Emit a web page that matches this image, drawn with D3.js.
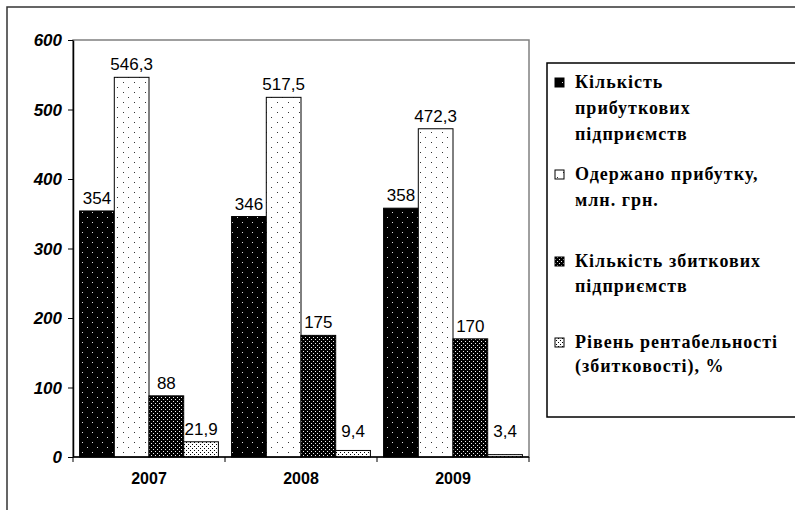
<!DOCTYPE html>
<html>
<head>
<meta charset="UTF-8">
<script src="https://d3js.org/d3.v7.min.js"></script>
</head>
<body style="margin:0">
<script>
  var years = ['2007', '2008', '2009'];
  var profitableCount = [354, 346, 358];
  var profitSum = [546.3, 517.5, 472.3];
  var lossCount = [88, 175, 170];
  var rentability = [21.9, 9.4, 3.4];
  var yTicks = [0, 100, 200, 300, 400, 500, 600];

  var seriesNames = [
    ['Кількість', 'прибуткових', 'підприємств'],
    ['Одержано прибутку,', 'млн. грн.'],
    ['Кількість збиткових', 'підприємств'],
    ['Рівень рентабельності', '(збитковості), %']
  ];
  var seriesValues = [profitableCount, profitSum, lossCount, rentability];

  var W = 795, H = 510;
  var plot = {left: 73, top: 40, right: 529, bottom: 457};

  var svg = d3.select('body').append('svg')
    .attr('width', W)
    .attr('height', H)
    .attr('font-family', 'Liberation Sans');

  // fill patterns like the old excel ones
  var defs = svg.append('defs');
  function dotPattern(id, bg, fg, w, h, dots) {
    var p = defs.append('pattern')
      .attr('id', id)
      .attr('patternUnits', 'userSpaceOnUse')
      .attr('width', w).attr('height', h);
    p.append('rect').attr('width', w).attr('height', h).attr('fill', bg);
    dots.forEach(function(d) {
      p.append('rect').attr('x', d[0]).attr('y', d[1]).attr('width', 1).attr('height', 1).attr('fill', fg);
    });
  }
  dotPattern('p0', '#000', '#ddd', 10, 10, [[2, 2], [7, 7]]);
  dotPattern('p1', '#fff', '#333', 11, 10, [[2, 2], [7, 7]]);
  dotPattern('p2', '#000', '#eee', 4, 4, [[1, 1], [3, 3]]);
  dotPattern('p3', '#fff', '#000', 4, 4, [[0, 0], [2, 2]]);

  // outer frame (cut at right and bottom)
  svg.append('rect')
    .attr('x', 7).attr('y', 7)
    .attr('width', W).attr('height', H)
    .attr('fill', 'none')
    .attr('stroke', '#333')
    .attr('stroke-width', 1.5);

  var x0 = d3.scaleBand()
    .domain(years)
    .range([plot.left, plot.right])
    .paddingInner(0)
    .paddingOuter(0);

  var x1 = d3.scaleBand()
    .domain(d3.range(4))
    .range([0, x0.bandwidth()])
    .paddingOuter(0.19);

  var y = d3.scaleLinear()
    .domain([0, 600])
    .range([plot.bottom, plot.top]);

  // plot area border
  svg.append('rect')
    .attr('x', plot.left).attr('y', plot.top)
    .attr('width', plot.right - plot.left)
    .attr('height', plot.bottom - plot.top)
    .attr('fill', 'none')
    .attr('stroke', '#808080')
    .attr('stroke-width', 1.5);

  // bars
  years.forEach(function(yr, yi) {
    seriesValues.forEach(function(vals, si) {
      var v = vals[yi];
      svg.append('rect')
        .attr('x', x0(yr) + x1(si))
        .attr('y', y(v))
        .attr('width', x1.bandwidth())
        .attr('height', y(0) - y(v))
        .attr('fill', 'url(#p' + si + ')')
        .attr('stroke', '#000')
        .attr('stroke-width', 1);
    });
  });
  // value labels
  years.forEach(function(yr, yi) {
    seriesValues.forEach(function(vals, si) {
      var v = vals[yi];
      svg.append('text')
        .attr('x', x0(yr) + x1(si) + x1.bandwidth() / 2)
        .attr('y', Math.min(y(v) - 7, y(0) - 20))
        .attr('text-anchor', 'middle')
        .attr('font-family', 'Liberation Sans')
        .attr('font-size', 17)
        .text(String(v).replace('.', ','));
    });
  });

  // y axis: line + ticks from d3, labels as plain text
  svg.append('g')
    .attr('transform', 'translate(' + plot.left + ',0)')
    .call(d3.axisLeft(y).tickValues(yTicks).tickSize(5).tickFormat('').tickSizeOuter(0))
    .call(function(g) {
      g.select('.domain').attr('stroke', '#000').attr('stroke-width', 1.5);
      g.selectAll('line').attr('stroke', '#000');
    });
  yTicks.forEach(function(t) {
    svg.append('text')
      .attr('x', plot.left - 11)
      .attr('y', y(t) + 6)
      .attr('text-anchor', 'end')
      .attr('font-family', 'Liberation Sans')
      .attr('font-size', 17)
      .attr('font-weight', 'bold')
      .attr('font-style', 'italic')
      .text(t);
  });

  // x axis
  svg.append('line')
    .attr('x1', plot.left).attr('x2', plot.right)
    .attr('y1', plot.bottom).attr('y2', plot.bottom)
    .attr('stroke', '#000').attr('stroke-width', 1.5);
  years.concat(['end']).forEach(function(d) {
    var xx = d === 'end' ? x0.range()[1] : x0(d);
    svg.append('line')
      .attr('x1', xx).attr('x2', xx)
      .attr('y1', plot.bottom).attr('y2', plot.bottom + 5)
      .attr('stroke', '#000');
  });
  years.forEach(function(d) {
    svg.append('text')
      .attr('x', x0(d) + x0.bandwidth() / 2)
      .attr('y', plot.bottom + 27)
      .attr('text-anchor', 'middle')
      .attr('font-family', 'Liberation Sans')
      .attr('font-size', 16)
      .attr('font-weight', 'bold')
      .text(d);
  });

  // legend
  svg.append('rect')
    .attr('x', 547).attr('y', 63)
    .attr('width', 300).attr('height', 417 - 63)
    .attr('fill', '#fff')
    .attr('stroke', '#000')
    .attr('stroke-width', 1.5);

  var legendTop = [78, 170, 257, 338];
  var lineGap = [26, 26, 25, 24];
  seriesNames.forEach(function(lines, i) {
    svg.append('rect')
      .attr('x', 555).attr('y', legendTop[i])
      .attr('width', 9).attr('height', 9)
      .attr('fill', 'url(#p' + i + ')')
      .attr('stroke', '#000')
      .attr('stroke-width', 1);
    lines.forEach(function(t, j) {
      svg.append('text')
        .attr('x', 575)
        .attr('y', legendTop[i] + 10 + j * lineGap[i])
        .attr('font-family', 'Liberation Serif')
        .attr('font-size', 18)
        .attr('font-weight', 'bold')
        .attr('letter-spacing', 1)
        .text(t);
    });
  });
</script>
</body>
</html>
